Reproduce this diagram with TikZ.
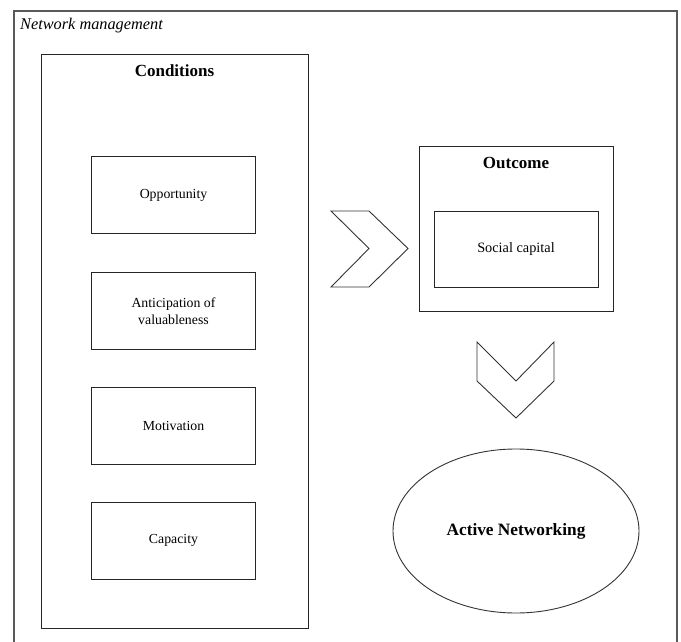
\documentclass[tikz,border=0pt]{standalone}
\usepackage{fontspec}
\setmainfont{Liberation Serif}
\usetikzlibrary{shapes.geometric}
\tikzset{
  frameline/.style={draw=black!65, line width=1.1pt},
  box/.style={draw=black!85, line width=1pt, rectangle, inner sep=0pt, align=center},
  item/.style={box, minimum width=164pt, minimum height=77pt, font=\fontsize{13.8}{16.5}\selectfont},
  head/.style={font=\fontsize{17}{20}\selectfont\bfseries, inner sep=0pt},
  chevron/.style={draw=black!80, line width=0.9pt, line join=miter},
}
\begin{document}
\begin{tikzpicture}[x=1pt, y=-1pt]
\useasboundingbox (0,0) rectangle (681,641);
% outer frame (bottom edge lies below the page)
\draw[frameline] (14,660) -- (14,11) -- (677,11) -- (677,660);
\node[anchor=west, inner sep=0pt, font=\fontsize{16.3}{19}\selectfont\itshape] (title) at (20,26) {Network management};

% conditions column
\node[box, minimum width=267pt, minimum height=574pt] (cond) at (174.5,341) {};
\node[head] (condlabel) at (174.5,71) {Conditions};
\node[item] (opp) at (173.5,195) {Opportunity};
\node[item] (ant) at (173.5,311) {Anticipation of\\valuableness};
\node[item] (mot) at (173.5,426) {Motivation};
\node[item] (cap) at (173.5,540.5) {Capacity};

% outcome block
\node[box, minimum width=194pt, minimum height=165pt] (out) at (516,228.5) {};
\node[head] (outlabel) at (516,163) {Outcome};
\node[box, minimum width=164pt, minimum height=76pt, font=\fontsize{14.3}{17}\selectfont] (soc) at (516,249) {Social capital};

% active networking
\node[draw=black!80, line width=0.9pt, ellipse, minimum width=246pt, minimum height=164pt, inner sep=0pt, font=\fontsize{17.3}{20}\selectfont\bfseries] (act) at (516,531) {Active Networking};

% chevrons
\draw[chevron] (331,211) -- (369,211) -- (408,248.5) -- (369,287) -- (331,287) -- (369,248.5) -- cycle;
\draw[chevron] (477,342) -- (516,381) -- (554,342) -- (554,381) -- (516,418) -- (477,381) -- cycle;
\end{tikzpicture}
\end{document}
